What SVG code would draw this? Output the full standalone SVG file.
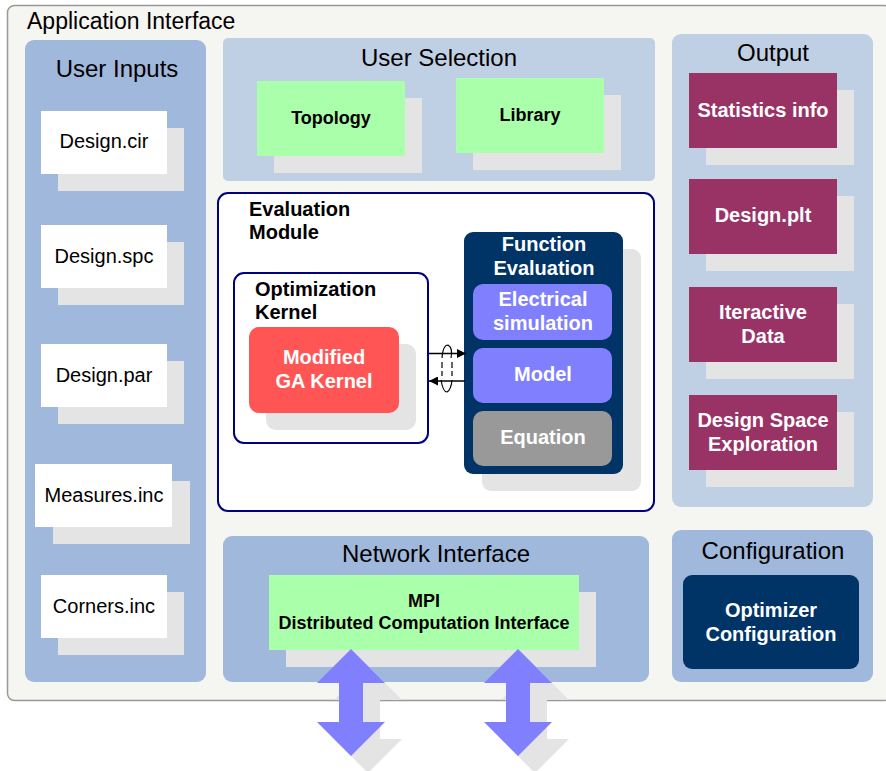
<svg xmlns="http://www.w3.org/2000/svg" width="886" height="771" viewBox="0 0 886 771">
  <defs>
    <marker id="arrowHead" viewBox="0 0 10 10" refX="10" refY="5" markerWidth="10" markerHeight="9" markerUnits="userSpaceOnUse" orient="auto">
      <path d="M0,0 L10,5 L0,10 z" fill="#000"/>
    </marker>
    <path id="dblArrow" d="M0,0 L34,34 L12,34 L12,73 L34,73 L0,107 L-34,73 L-12,73 L-12,34 L-34,34 z"/>
  </defs>
  <style>
    text { font-family: "Liberation Sans", Arial, Helvetica, sans-serif; }
    .title { font-size: 24px; fill: #000; text-anchor: middle; }
    .file { font-size: 20px; fill: #000; text-anchor: middle; }
    .bold { font-weight: bold; font-size: 20px; }
    .white { fill: #fff; text-anchor: middle; }
    .dark { fill: #000; }
    .mid { text-anchor: middle; }
    .shadow { fill: #e4e4e4; }
    .panelDark { fill: #a0b8dc; }
    .panelLight { fill: #c0d0e4; }
    .paper { fill: #ffffff; }
    .green { fill: #aaffaa; }
    .plum { fill: #993366; }
    .navy { fill: #003366; }
    .violet { fill: #8080ff; }
    .frame { fill: #ffffff; stroke: #000080; stroke-width: 2; }
  </style>

  <!-- outer application frame -->
  <g id="application-interface">
    <rect x="7.5" y="5.5" width="884" height="695" rx="7" fill="#f5f5f2" stroke="#999" stroke-width="1.5"/>
    <text x="27" y="29" font-size="23">Application Interface</text>
  </g>

  <!-- left column: user inputs -->
  <g id="user-inputs">
    <rect class="panelDark" x="25" y="40" width="181" height="642" rx="9"/>
    <text class="title" x="117" y="77">User Inputs</text>
  </g>
  <g id="design-cir">
    <rect class="shadow" x="58" y="128" width="126" height="63"/>
    <rect class="paper" x="41" y="111" width="126" height="63"/>
    <text class="file" x="104" y="148">Design.cir</text>
  </g>
  <g id="design-spc">
    <rect class="shadow" x="58" y="242" width="126" height="63"/>
    <rect class="paper" x="41" y="225" width="126" height="63"/>
    <text class="file" x="104" y="263">Design.spc</text>
  </g>
  <g id="design-par">
    <rect class="shadow" x="58" y="361" width="126" height="63"/>
    <rect class="paper" x="41" y="344" width="126" height="63"/>
    <text class="file" x="104" y="382">Design.par</text>
  </g>
  <g id="measures-inc">
    <rect class="shadow" x="53" y="481" width="137" height="63"/>
    <rect class="paper" x="35" y="464" width="137" height="63"/>
    <text class="file" x="104" y="502">Measures.inc</text>
  </g>
  <g id="corners-inc">
    <rect class="shadow" x="58" y="592" width="126" height="63"/>
    <rect class="paper" x="41" y="575" width="126" height="63"/>
    <text class="file" x="104" y="613">Corners.inc</text>
  </g>

  <!-- user selection -->
  <g id="user-selection">
    <rect class="panelLight" x="223" y="38" width="432" height="143" rx="5"/>
    <text class="title" x="439" y="66">User Selection</text>
  </g>
  <g id="topology">
    <rect class="shadow" x="274" y="98" width="148" height="75"/>
    <rect class="green" x="257" y="81" width="148" height="75"/>
    <text class="bold dark mid" x="331" y="124" font-size="18" style="font-size:18px">Topology</text>
  </g>
  <g id="library">
    <rect class="shadow" x="473" y="95" width="148" height="75"/>
    <rect class="green" x="456" y="78" width="148" height="75"/>
    <text class="bold dark mid" x="530" y="121" style="font-size:18px">Library</text>
  </g>

  <!-- evaluation module -->
  <g id="evaluation-module">
    <rect class="frame" x="218" y="193" width="436" height="318" rx="10"/>
    <text class="bold dark" x="249" y="216">Evaluation</text>
    <text class="bold dark" x="249" y="239">Module</text>
  </g>
  <g id="optimization-kernel">
    <rect class="frame" x="234" y="273" width="194" height="170" rx="10"/>
    <text class="bold dark" x="255" y="296">Optimization</text>
    <text class="bold dark" x="255" y="319">Kernel</text>
  </g>
  <g id="ga-kernel">
    <rect class="shadow" x="266" y="344" width="150" height="86" rx="10"/>
    <rect x="249" y="327" width="150" height="86" rx="10" fill="#ff5555"/>
    <text class="bold white" x="324" y="364">Modified</text>
    <text class="bold white" x="324" y="388">GA Kernel</text>
  </g>
  <g id="function-evaluation">
    <rect class="shadow" x="482" y="249" width="159" height="242" rx="9"/>
    <rect class="navy" x="464" y="232" width="159" height="242" rx="9"/>
    <text class="bold white" x="544" y="251">Function</text>
    <text class="bold white" x="544" y="275">Evaluation</text>
  </g>
  <g id="electrical-simulation">
    <rect class="violet" x="473" y="284" width="139" height="56" rx="10"/>
    <text class="bold white" x="543" y="306">Electrical</text>
    <text class="bold white" x="543" y="330">simulation</text>
  </g>
  <g id="model">
    <rect class="violet" x="473" y="348" width="139" height="55" rx="10"/>
    <text class="bold white" x="543" y="381">Model</text>
  </g>
  <g id="equation">
    <rect x="473" y="411" width="139" height="55" rx="10" fill="#999999"/>
    <text class="bold white" x="543" y="444">Equation</text>
  </g>

  <!-- output column -->
  <g id="output">
    <rect class="panelLight" x="672" y="34" width="201" height="473" rx="9"/>
    <text class="title" x="773" y="61">Output</text>
  </g>
  <g id="statistics-info">
    <rect class="shadow" x="706" y="90" width="148" height="75"/>
    <rect class="plum" x="689" y="73" width="148" height="75"/>
    <text class="bold white" x="763" y="117">Statistics info</text>
  </g>
  <g id="design-plt">
    <rect class="shadow" x="706" y="196" width="148" height="75"/>
    <rect class="plum" x="689" y="179" width="148" height="75"/>
    <text class="bold white" x="763" y="222">Design.plt</text>
  </g>
  <g id="iteractive-data">
    <rect class="shadow" x="706" y="304" width="148" height="75"/>
    <rect class="plum" x="689" y="287" width="148" height="75"/>
    <text class="bold white" x="763" y="319">Iteractive</text>
    <text class="bold white" x="763" y="343">Data</text>
  </g>
  <g id="design-space-exploration">
    <rect class="shadow" x="706" y="412" width="148" height="75"/>
    <rect class="plum" x="689" y="395" width="148" height="75"/>
    <text class="bold white" x="763" y="427">Design Space</text>
    <text class="bold white" x="763" y="451">Exploration</text>
  </g>

  <!-- configuration -->
  <g id="configuration">
    <rect class="panelDark" x="672" y="530" width="201" height="152" rx="9"/>
    <text class="title" x="773" y="559">Configuration</text>
  </g>
  <g id="optimizer-configuration">
    <rect class="navy" x="683" y="575" width="176" height="94" rx="9"/>
    <text class="bold white" x="771" y="617">Optimizer</text>
    <text class="bold white" x="771" y="641">Configuration</text>
  </g>

  <!-- network interface -->
  <g id="network-interface">
    <rect class="panelDark" x="223" y="536" width="426" height="146" rx="9"/>
    <text class="title" x="436" y="562">Network Interface</text>
  </g>
  <g id="mpi">
    <rect class="shadow" x="286" y="592" width="310" height="75"/>
    <rect class="green" x="269" y="575" width="310" height="75"/>
    <text class="bold dark mid" x="424" y="607" style="font-size:18px">MPI</text>
    <text class="bold dark mid" x="424" y="629" style="font-size:18px">Distributed Computation Interface</text>
  </g>

  <!-- connectors -->
  <g id="connectors">
    <line x1="429" y1="353.5" x2="466" y2="353.5" stroke="#000" stroke-width="1.5" marker-end="url(#arrowHead)"/>
    <line x1="465" y1="381" x2="429" y2="381" stroke="#000" stroke-width="1.5" marker-end="url(#arrowHead)"/>
    <!-- loop symbol on the exchange -->
    <g fill="none" stroke="#000" stroke-width="1.2">
      <path d="M442,358 Q443,345 448,345 Q453,348 451,358"/>
      <path d="M442,362 L442,376" stroke-dasharray="6,3"/>
      <path d="M452,362 L452,376" stroke-dasharray="6,3"/>
      <path d="M441,380 Q443,392 447,392 Q451,390 452,380"/>
    </g>
    <!-- bidirectional links below the network interface -->
    <use href="#dblArrow" x="368" y="666" fill="#e4e4e4"/>
    <use href="#dblArrow" x="535" y="666" fill="#e4e4e4"/>
    <use href="#dblArrow" x="351" y="649" fill="#8080ff"/>
    <use href="#dblArrow" x="518" y="649" fill="#8080ff"/>
  </g>
</svg>
